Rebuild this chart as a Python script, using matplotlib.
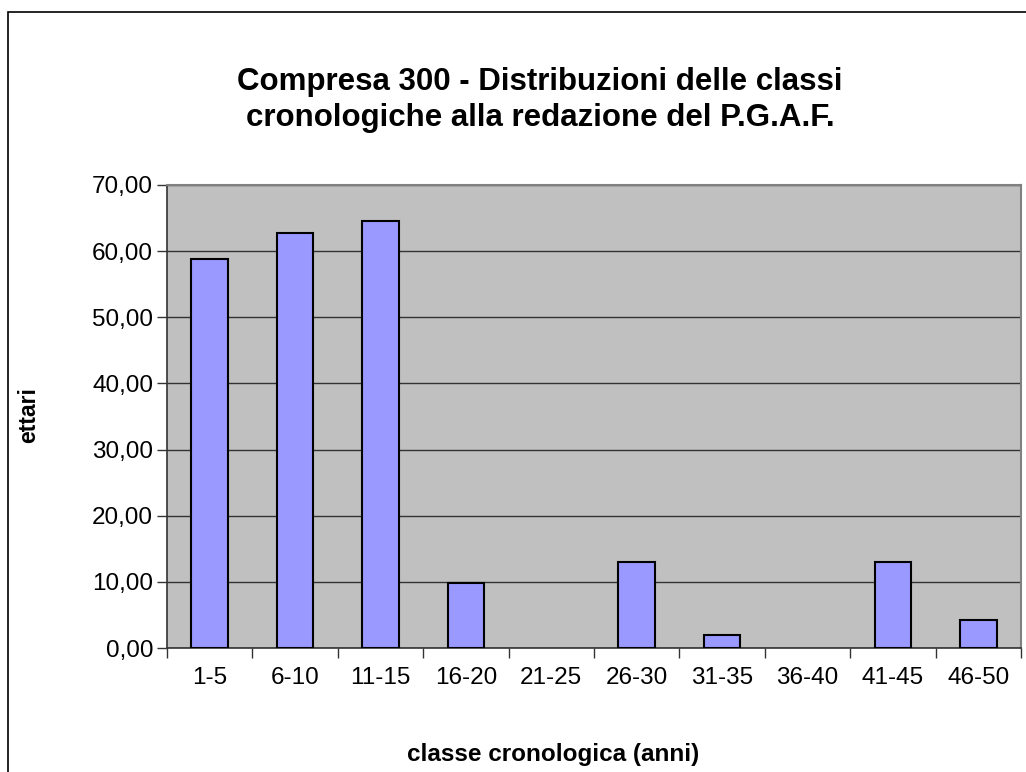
import matplotlib
matplotlib.use("Agg")
import matplotlib.pyplot as plt
from matplotlib.patches import Rectangle

categories = ["1-5", "6-10", "11-15", "16-20", "21-25", "26-30", "31-35", "36-40", "41-45", "46-50"]
values = [58.8, 62.8, 64.6, 9.9, 0.0, 13.0, 2.0, 0.0, 13.0, 4.2]
yticks = [0, 10, 20, 30, 40, 50, 60, 70]

plt.rcParams['font.family'] = ['Liberation Sans', 'DejaVu Sans']

W, H = 1026, 772
fig = plt.figure(figsize=(W / 100, H / 100), dpi=100)
fig.patches.append(Rectangle((8 / W, -0.1), 1.2, 1 - 12 / H + 0.1, transform=fig.transFigure,
                             fill=False, edgecolor='black', linewidth=1.2))

ax = fig.add_axes([167 / W, 1 - 648 / H, (1021 - 167) / W, (648 - 185) / H])
ax.set_facecolor('#c0c0c0')
x = list(range(len(categories)))
lws = [1.5 if v > 0 else 0 for v in values]
ax.bar(x, values, width=0.43, color='#9999ff', edgecolor='black', linewidth=lws, zorder=3)
ax.set_xlim(-0.5, len(categories) - 0.5)
ax.set_ylim(0, 70)
ax.set_yticks(yticks)
ax.set_yticklabels([f"{v:.2f}".replace('.', ',') for v in yticks], fontsize=17.5)
ax.yaxis.grid(True, color='#333333', linewidth=1, zorder=1)
ax.set_axisbelow(True)

ax.set_xticks(x)
ax.set_xticklabels(categories, fontsize=17.5)
ax.tick_params(axis='x', length=0, pad=14)
ax.set_xticks([i + 0.5 for i in range(-1, len(categories))], minor=True)
ax.tick_params(axis='x', which='minor', length=7, width=1, color='#333333', direction='out')
ax.tick_params(axis='y', length=7, width=1, color='#333333', direction='out', pad=3)

for s in ['top', 'right']:
    ax.spines[s].set_color('#808080')
    ax.spines[s].set_linewidth(1.5)
for s in ['left', 'bottom']:
    ax.spines[s].set_color('#333333')
    ax.spines[s].set_linewidth(1.2)

fig.text(540 / W, 1 - 100 / H,
         "Compresa 300 - Distribuzioni delle classi\ncronologiche alla redazione del P.G.A.F.",
         ha='center', va='center', fontsize=22.5, fontweight='bold', linespacing=1.25)
fig.text(553 / W, 1 - 755 / H, "classe cronologica (anni)", ha='center', va='center',
         fontsize=17.5, fontweight='bold')
fig.text(29 / W, 1 - 415 / H, "ettari", ha='center', va='center', rotation=90,
         fontsize=16.5, fontweight='bold')

fig.savefig("out.png", dpi=100)
